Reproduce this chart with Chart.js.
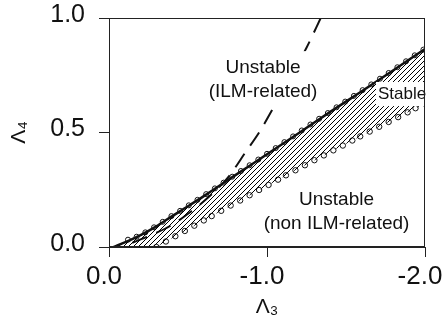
<!DOCTYPE html>
<html>
<head>
<meta charset="UTF-8">
<title>Lambda3 - Lambda4 stability diagram</title>
<script src="https://cdn.jsdelivr.net/npm/chart.js"></script>
<style>
    html, body { margin: 0; padding: 0; background: #fff; }
    #chart { display: block; }
</style>
</head>
<body>
<canvas id="chart" width="447" height="325"></canvas>
<script>
    // --- data (x = Lambda3, y = Lambda4) ---
    // thick solid boundary
    const upperX = [-2.0, -1.8, -1.6, -1.4, -1.2, -1.0, -0.8, -0.6, -0.5, -0.4, -0.3, -0.2, -0.1, -0.03];
    const upperY = [0.865, 0.772, 0.680, 0.590, 0.497, 0.405, 0.314, 0.222, 0.178, 0.135, 0.090, 0.052, 0.020, 0.0];

    // open circles along the solid boundary
    const upperDotX = [-1.99, -1.935, -1.88, -1.825, -1.77, -1.715, -1.66, -1.605, -1.55, -1.495, -1.44, -1.385,
        -1.33, -1.275, -1.22, -1.165, -1.11, -1.055, -1.0, -0.945, -0.89, -0.835, -0.78, -0.725, -0.67, -0.615,
        -0.56, -0.505, -0.45, -0.395, -0.34, -0.285, -0.23, -0.175, -0.12];
    const upperDotY = [0.862, 0.837, 0.811, 0.785, 0.760, 0.735, 0.710, 0.685, 0.660, 0.635, 0.610, 0.585,
        0.560, 0.535, 0.509, 0.483, 0.458, 0.432, 0.407, 0.382, 0.357, 0.332, 0.307, 0.281, 0.256, 0.231,
        0.206, 0.182, 0.158, 0.135, 0.110, 0.086, 0.064, 0.045, 0.032];

    // open circles of the lower boundary
    const lowerDotX = [-2.0, -1.94, -1.89, -1.83, -1.77, -1.71, -1.65, -1.59, -1.54, -1.48, -1.42, -1.36, -1.30,
        -1.24, -1.18, -1.12, -1.07, -1.01, -0.95, -0.89, -0.83, -0.77, -0.71, -0.65, -0.60, -0.54, -0.48, -0.42, -0.36, -0.30];
    const lowerDotY = [0.626, 0.606, 0.588, 0.567, 0.546, 0.525, 0.504, 0.483, 0.465, 0.443, 0.422, 0.400, 0.379,
        0.357, 0.335, 0.313, 0.294, 0.271, 0.249, 0.226, 0.203, 0.181, 0.158, 0.135, 0.116, 0.093, 0.070, 0.047, 0.024, 0.0];

    // dashed curve
    const dashX = [-1.34, -1.25, -1.05, -0.95, -0.87, -0.76, -0.65, -0.5, -0.4, -0.3, -0.2, -0.1];
    const dashY = [1.0, 0.87, 0.62, 0.50, 0.42, 0.31, 0.23, 0.145, 0.097, 0.062, 0.033, 0.005];

    const xTicks = [-2, -1, 0];
    const yTicks = [0, 0.5, 1];

    const regionLabels = [
        { lines: ['Unstable', '(ILM-related)'], x: -0.975, y: 0.73, size: 19, pad: 4 },
        { lines: ['Stable'], x: -1.855, y: 0.668, size: 17, pad: 1 },
        { lines: ['Unstable', '(non ILM-related)'], x: -1.44, y: 0.154, size: 19, pad: -1 }
    ];

    const FONT = "'Liberation Sans', Arial, Helvetica, sans-serif";
    const INK = '#111';

    function pts(xs, ys) {
        return xs.map((x, i) => ({ x: x, y: ys[i] }));
    }

    // lower edge of the hatched band: axis until the circles start, then the circles
    const hatchFloor = pts(lowerDotX, lowerDotY).concat([{ x: upperX[upperX.length - 1], y: 0 }]);

    function makeHatch() {
        const s = 5;
        const c = document.createElement('canvas');
        c.width = s; c.height = s;
        const g = c.getContext('2d');
        g.strokeStyle = '#000';
        g.lineWidth = 1;
        g.beginPath();
        g.moveTo(0, s); g.lineTo(s, 0);
        g.moveTo(-1, 1); g.lineTo(1, -1);
        g.moveTo(s - 1, s + 1); g.lineTo(s + 1, s - 1);
        g.stroke();
        return g.createPattern(c, 'repeat');
    }

    const labelPlugin = {
        id: 'regionLabels',
        afterDatasetsDraw(chart) {
            const ctx = chart.ctx;
            const xs = chart.scales.x, ys = chart.scales.y;
            ctx.save();
            regionLabels.forEach(l => {
                const cx = xs.getPixelForValue(l.x);
                const cy = ys.getPixelForValue(l.y);
                const lh = l.size * 1.3;
                ctx.font = l.size + 'px ' + FONT;
                const w = Math.max(...l.lines.map(t => ctx.measureText(t).width));
                const h = lh * l.lines.length;
                if (l.pad >= 0) {
                    ctx.fillStyle = '#fff';
                    ctx.fillRect(cx - w / 2 - 2, cy - h / 2 - l.pad, w + 4, h + 2 * l.pad);
                }
                ctx.fillStyle = INK;
                ctx.textAlign = 'center';
                ctx.textBaseline = 'middle';
                l.lines.forEach((t, i) => {
                    ctx.fillText(t, cx, cy - h / 2 + lh * (i + 0.5));
                });
            });
            ctx.restore();
        },
        afterDraw(chart) {
            const a = chart.chartArea;
            const ctx = chart.ctx;
            ctx.save();
            ctx.strokeStyle = '#222';
            ctx.lineWidth = 1;
            ctx.strokeRect(a.left + 0.5, a.top + 0.5, a.right - a.left - 1, a.bottom - a.top - 1);
            ctx.restore();
        }
    };

    new Chart(document.getElementById('chart'), {
        type: 'scatter',
        data: {
            datasets: [
                {
                    label: 'stability boundary',
                    data: pts(upperX, upperY),
                    showLine: true,
                    borderColor: INK,
                    borderWidth: 2.5,
                    pointRadius: 0,
                    cubicInterpolationMode: 'monotone',
                    backgroundColor: makeHatch(),
                    fill: 1
                },
                {
                    label: 'hatch floor',
                    data: hatchFloor,
                    showLine: true,
                    borderWidth: 0,
                    borderColor: 'rgba(0,0,0,0)',
                    pointRadius: 0,
                    fill: false
                },
                {
                    label: 'upper circles',
                    data: pts(upperDotX, upperDotY),
                    pointRadius: 2.5,
                    pointBorderWidth: 1,
                    pointBorderColor: INK,
                    pointBackgroundColor: 'rgba(0,0,0,0)'
                },
                {
                    label: 'lower circles',
                    data: pts(lowerDotX, lowerDotY),
                    pointRadius: 2.7,
                    pointBorderWidth: 1,
                    pointBorderColor: INK,
                    pointBackgroundColor: '#fff'
                },
                {
                    label: 'dashed',
                    data: pts(dashX, dashY),
                    showLine: true,
                    borderColor: INK,
                    borderWidth: 2,
                    borderDash: [16, 10],
                    pointRadius: 0,
                    cubicInterpolationMode: 'monotone',
                    fill: false
                }
            ]
        },
        options: {
            responsive: false,
            animation: false,
            layout: { padding: { top: 18, right: 22, left: 0, bottom: 0 } },
            plugins: { legend: { display: false }, tooltip: { enabled: false } },
            scales: {
                x: {
                    type: 'linear',
                    min: -2, max: 0,
                    reverse: true,
                    afterBuildTicks: s => { s.ticks = xTicks.map(v => ({ value: v })); },
                    afterFit: s => { s.height = 78; s.paddingLeft = 0; s.paddingRight = 0; },
                    grid: { display: true, drawOnChartArea: false, drawTicks: true, tickLength: 10, color: '#222' },
                    border: { display: true, color: '#222', width: 1 },
                    ticks: {
                        color: INK,
                        font: { family: FONT, size: 26 },
                        padding: 4,
                        labelOffset: -5,
                        maxRotation: 0,
                        callback: v => v.toFixed(1)
                    },
                    title: {
                        display: true,
                        text: 'Λ₃',
                        color: INK,
                        font: { family: FONT, size: 21 },
                        padding: { top: 0, bottom: 5 }
                    }
                },
                y: {
                    type: 'linear',
                    min: 0, max: 1,
                    afterBuildTicks: s => { s.ticks = yTicks.map(v => ({ value: v })); },
                    afterFit: s => { s.width = 109; s.paddingTop = 0; s.paddingBottom = 0; },
                    grid: { display: true, drawOnChartArea: false, drawTicks: true, tickLength: 10, color: '#222' },
                    border: { display: true, color: '#222', width: 1 },
                    ticks: {
                        color: INK,
                        font: { family: FONT, size: 25 },
                        padding: 14,
                        labelOffset: -3,
                        callback: v => v.toFixed(1)
                    },
                    title: {
                        display: true,
                        text: 'Λ₄',
                        color: INK,
                        font: { family: FONT, size: 21 },
                        padding: { top: 7, bottom: 0 }
                    }
                }
            }
        },
        plugins: [labelPlugin]
    });
</script>
</body>
</html>
